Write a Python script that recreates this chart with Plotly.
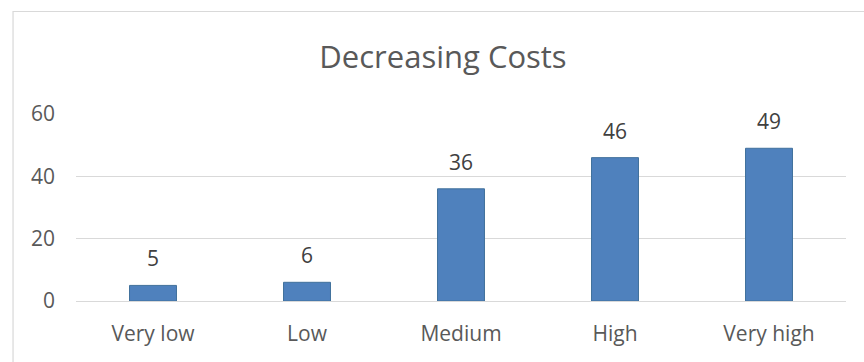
import plotly.graph_objects as go

# Survey responses by cost-reduction level
categories = ["Very low", "Low", "Medium", "High", "Very high"]
counts = [5, 6, 36, 46, 49]
y_ticks = [0, 20, 40, 60]

W, H = 864, 362
M_L, M_R, M_T, M_B = 75.5, 18, 114, 61
plot_w = W - M_L - M_R
plot_h = H - M_T - M_B

def px_to_paper_x(px):
    return (px - M_L) / plot_w

def px_to_paper_y(py):
    return (H - M_B - py) / plot_h

FONT = "Open Sans"
GRID = "#D9D9D9"
TEXT = "#595959"

fig = go.Figure()
fig.add_trace(go.Bar(
    x=categories,
    y=counts,
    marker=dict(color="#4F81BD", line=dict(color="#41719C", width=1)),
    hoverinfo="x+y",
))

# value labels above each bar
for cat, val in zip(categories, counts):
    fig.add_annotation(
        x=cat, y=val, text=str(val), showarrow=False,
        xref="x", yref="y", yanchor="middle", yshift=27,
        font=dict(family=FONT, size=21, color="#404040"),
    )

# chart frame (left and top edges visible, rest runs off the page)
fig.add_shape(
    type="rect", xref="paper", yref="paper",
    x0=px_to_paper_x(12.5), x1=px_to_paper_x(W + 40),
    y0=px_to_paper_y(H + 40), y1=px_to_paper_y(11.5),
    line=dict(color=GRID, width=1.2), fillcolor="rgba(0,0,0,0)",
    layer="below",
)

fig.update_layout(
    width=W, height=H,
    margin=dict(l=M_L, r=M_R, t=M_T, b=M_B, autoexpand=False),
    paper_bgcolor="white", plot_bgcolor="white",
    bargap=0.695,
    showlegend=False,
    title=dict(
        text="Decreasing Costs",
        x=443 / W, xanchor="center", xref="container",
        y=1 - 57.5 / H, yanchor="middle", yref="container",
        font=dict(family=FONT, size=31, color=TEXT),
    ),
    xaxis=dict(
        showgrid=False, showline=False, zeroline=False, ticks="",
        tickfont=dict(family=FONT, size=21, color=TEXT),
        ticklabelstandoff=18,
    ),
    yaxis=dict(
        range=[0, 60], tickvals=y_ticks,
        showgrid=True, gridcolor=GRID, gridwidth=1,
        zeroline=True, zerolinecolor=GRID, zerolinewidth=1,
        showline=False, ticks="",
        tickfont=dict(family=FONT, size=21, color=TEXT),
        ticklabelstandoff=20,
    ),
)

fig.write_html("out.html")
